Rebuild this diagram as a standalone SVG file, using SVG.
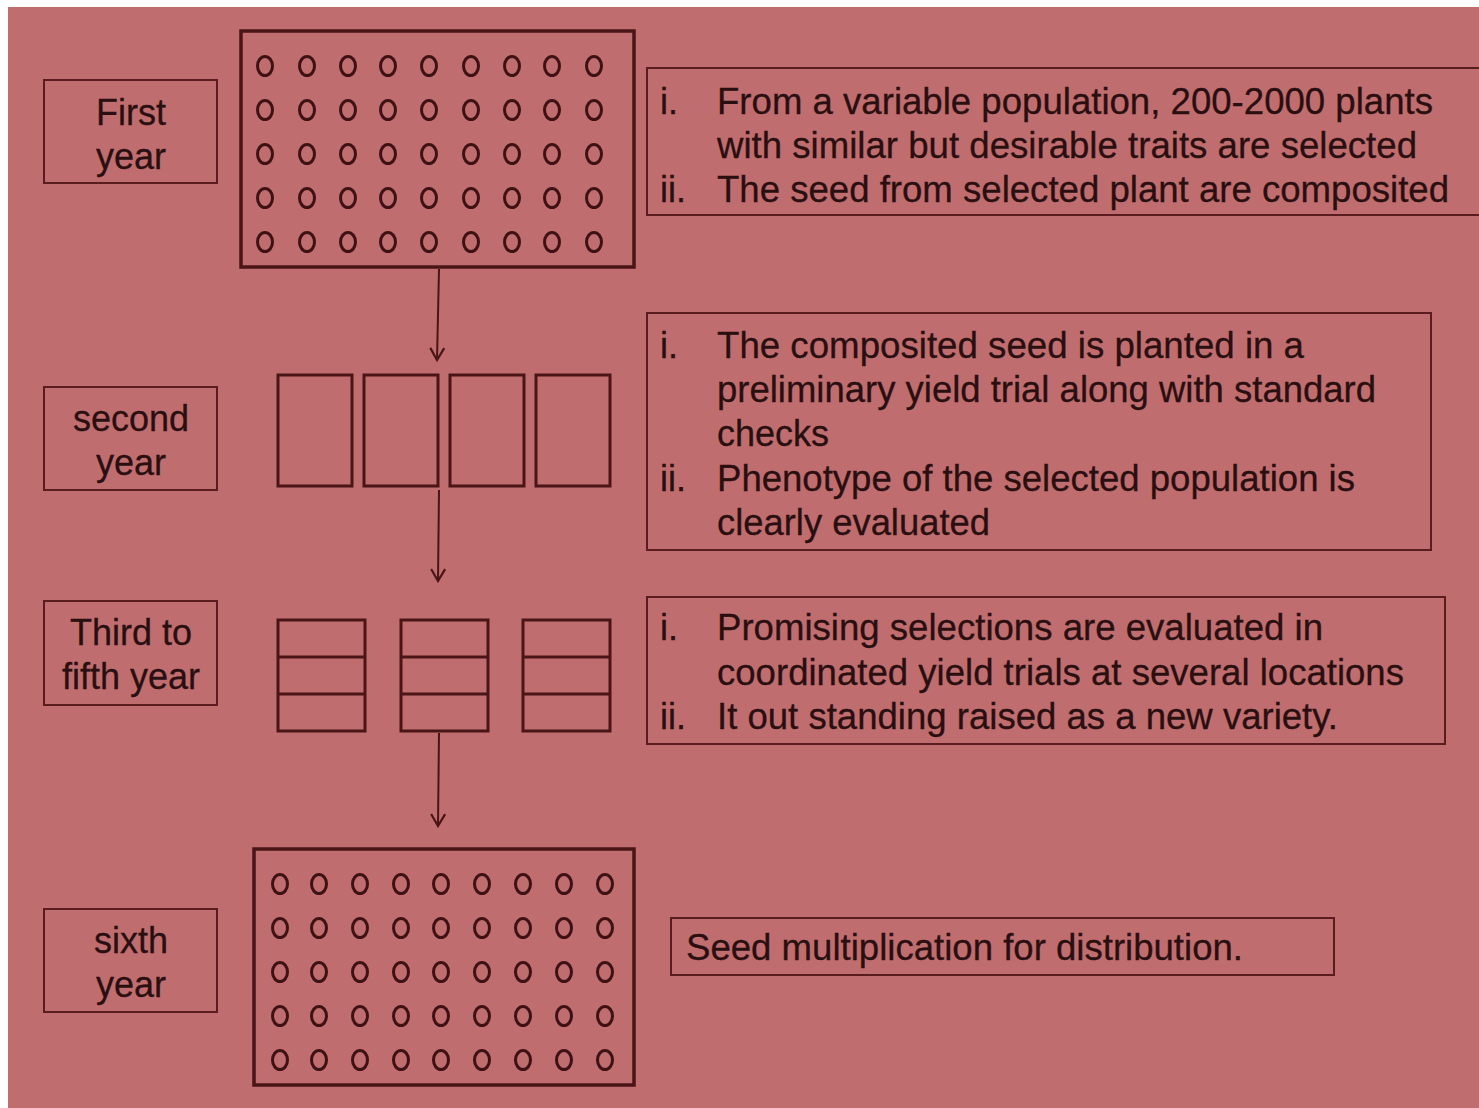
<svg xmlns="http://www.w3.org/2000/svg" width="1479" height="1108" viewBox="0 0 1479 1108">
<defs>
<style>
.bg{fill:#c06d6f}
.lbl{fill:none;stroke:#5a1c1e;stroke-width:2}
.grid{fill:none;stroke:#4a1517;stroke-width:3.5}
.plot{fill:none;stroke:#4a1517;stroke-width:3}
.seed{fill:none;stroke:#3e1214;stroke-width:3}
.t{font-family:"Liberation Sans",Arial,sans-serif;font-size:36px;fill:#2a0f10;stroke:#2a0f10;stroke-width:0.3}
.c{text-anchor:middle}
.conn{fill:none;stroke:#4a1517;stroke-width:2}
</style>
<marker id="arr" viewBox="0 0 16 18" refX="14" refY="9" markerWidth="16" markerHeight="18" markerUnits="userSpaceOnUse" orient="auto">
<path d="M2,2 L14,9 L2,16" fill="none" stroke="#4a1517" stroke-width="2.2"/>
</marker>
<g id="rowA">
<ellipse class="seed" cx="0" cy="0" rx="7.5" ry="9.5"/>
<ellipse class="seed" cx="42" cy="0" rx="7.5" ry="9.5"/>
<ellipse class="seed" cx="83" cy="0" rx="7.5" ry="9.5"/>
<ellipse class="seed" cx="123" cy="0" rx="7.5" ry="9.5"/>
<ellipse class="seed" cx="164" cy="0" rx="7.5" ry="9.5"/>
<ellipse class="seed" cx="206" cy="0" rx="7.5" ry="9.5"/>
<ellipse class="seed" cx="247" cy="0" rx="7.5" ry="9.5"/>
<ellipse class="seed" cx="287" cy="0" rx="7.5" ry="9.5"/>
<ellipse class="seed" cx="329" cy="0" rx="7.5" ry="9.5"/>
</g>
<g id="rowB">
<ellipse class="seed" cx="0" cy="0" rx="7.5" ry="9.5"/>
<ellipse class="seed" cx="39" cy="0" rx="7.5" ry="9.5"/>
<ellipse class="seed" cx="80" cy="0" rx="7.5" ry="9.5"/>
<ellipse class="seed" cx="121" cy="0" rx="7.5" ry="9.5"/>
<ellipse class="seed" cx="161" cy="0" rx="7.5" ry="9.5"/>
<ellipse class="seed" cx="202" cy="0" rx="7.5" ry="9.5"/>
<ellipse class="seed" cx="243" cy="0" rx="7.5" ry="9.5"/>
<ellipse class="seed" cx="284" cy="0" rx="7.5" ry="9.5"/>
<ellipse class="seed" cx="325" cy="0" rx="7.5" ry="9.5"/>
</g>
</defs>
<rect x="0" y="0" width="1479" height="1108" fill="#ffffff"/>
<rect class="bg" x="8" y="7" width="1471" height="1101"/>

<g id="label-first">
<rect class="lbl" x="44" y="80" width="173" height="103"/>
<text class="t c" x="131" y="125">First</text>
<text class="t c" x="131" y="169">year</text>
</g>
<g id="label-second">
<rect class="lbl" x="44" y="387" width="173" height="103"/>
<text class="t c" x="131" y="431">second</text>
<text class="t c" x="131" y="475">year</text>
</g>
<g id="label-third">
<rect class="lbl" x="44" y="601" width="173" height="104"/>
<text class="t c" x="131" y="645">Third to</text>
<text class="t c" x="131" y="689">fifth year</text>
</g>
<g id="label-sixth">
<rect class="lbl" x="44" y="909" width="173" height="103"/>
<text class="t c" x="131" y="953">sixth</text>
<text class="t c" x="131" y="997">year</text>
</g>

<g id="field-first">
<rect class="grid" x="241" y="31" width="393" height="236"/>
<use href="#rowA" x="265" y="66"/>
<use href="#rowA" x="265" y="110"/>
<use href="#rowA" x="265" y="154"/>
<use href="#rowA" x="265" y="198"/>
<use href="#rowA" x="265" y="242"/>
</g>

<g id="plots-second">
<rect class="plot" x="278" y="375" width="74" height="111"/>
<rect class="plot" x="364" y="375" width="74" height="111"/>
<rect class="plot" x="450" y="375" width="74" height="111"/>
<rect class="plot" x="536" y="375" width="74" height="111"/>
</g>

<g id="plots-third">
<rect class="plot" x="278" y="620" width="87" height="111"/>
<line class="plot" x1="278" y1="657" x2="365" y2="657"/>
<line class="plot" x1="278" y1="694" x2="365" y2="694"/>
<rect class="plot" x="401" y="620" width="87" height="111"/>
<line class="plot" x1="401" y1="657" x2="488" y2="657"/>
<line class="plot" x1="401" y1="694" x2="488" y2="694"/>
<rect class="plot" x="523" y="620" width="87" height="111"/>
<line class="plot" x1="523" y1="657" x2="610" y2="657"/>
<line class="plot" x1="523" y1="694" x2="610" y2="694"/>
</g>

<g id="field-sixth">
<rect class="grid" x="254" y="849" width="380" height="236"/>
<use href="#rowB" x="280" y="884"/>
<use href="#rowB" x="280" y="928"/>
<use href="#rowB" x="280" y="972"/>
<use href="#rowB" x="280" y="1016"/>
<use href="#rowB" x="280" y="1060"/>
</g>

<g id="connectors">
<line class="conn" x1="439" y1="269" x2="437" y2="360" marker-end="url(#arr)"/>
<line class="conn" x1="439" y1="490" x2="438" y2="581" marker-end="url(#arr)"/>
<line class="conn" x1="439" y1="733" x2="438" y2="826" marker-end="url(#arr)"/>
</g>

<g id="note-first">
<rect class="lbl" x="647" y="68" width="840" height="147"/>
<text class="t" x="660" y="114">i.</text>
<text class="t" x="717" y="114" textLength="716" lengthAdjust="spacingAndGlyphs">From a variable population, 200-2000 plants</text>
<text class="t" x="717" y="158" textLength="700" lengthAdjust="spacingAndGlyphs">with similar but desirable traits are selected</text>
<text class="t" x="660" y="202">ii.</text>
<text class="t" x="717" y="202" textLength="732" lengthAdjust="spacingAndGlyphs">The seed from selected plant are composited</text>
</g>

<g id="note-second">
<rect class="lbl" x="647" y="313" width="784" height="237"/>
<text class="t" x="660" y="358">i.</text>
<text class="t" x="717" y="358" textLength="587" lengthAdjust="spacingAndGlyphs">The composited seed is planted in a</text>
<text class="t" x="717" y="402" textLength="659" lengthAdjust="spacingAndGlyphs">preliminary yield trial along with standard</text>
<text class="t" x="717" y="446" textLength="112" lengthAdjust="spacingAndGlyphs">checks</text>
<text class="t" x="660" y="491">ii.</text>
<text class="t" x="717" y="491" textLength="638" lengthAdjust="spacingAndGlyphs">Phenotype of the selected population is</text>
<text class="t" x="717" y="535" textLength="273" lengthAdjust="spacingAndGlyphs">clearly evaluated</text>
</g>

<g id="note-third">
<rect class="lbl" x="647" y="597" width="798" height="147"/>
<text class="t" x="660" y="640">i.</text>
<text class="t" x="717" y="640" textLength="606" lengthAdjust="spacingAndGlyphs">Promising selections are evaluated in</text>
<text class="t" x="717" y="685" textLength="687" lengthAdjust="spacingAndGlyphs">coordinated yield trials at several locations</text>
<text class="t" x="660" y="729">ii.</text>
<text class="t" x="717" y="729" textLength="621" lengthAdjust="spacingAndGlyphs">It out standing raised as a new variety.</text>
</g>

<g id="note-sixth">
<rect class="lbl" x="671" y="918" width="663" height="57"/>
<text class="t" x="686" y="960" textLength="557" lengthAdjust="spacingAndGlyphs">Seed multiplication for distribution.</text>
</g>
</svg>
